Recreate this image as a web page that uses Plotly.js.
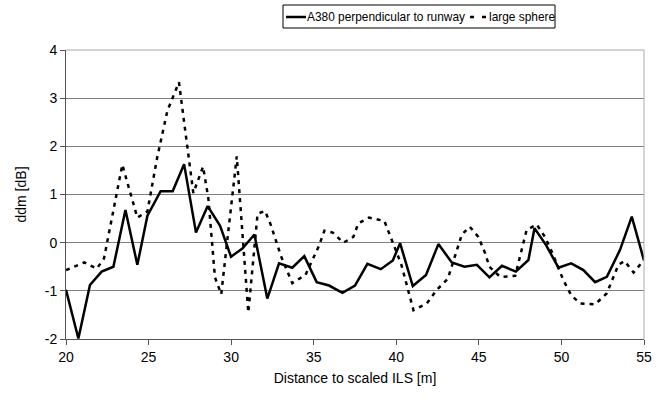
<!DOCTYPE html>
<html>
<head>
<meta charset="utf-8">
<script src="https://cdn.plot.ly/plotly-3.0.1.min.js"></script>
<style>html,body{margin:0;padding:0;background:#fff;}#chart{width:667px;height:401px;}</style>
</head>
<body>
<div id="chart"></div>
<script>
// Series 1: A380 perpendicular to runway
var xA380 = [20.0, 20.75, 21.45, 22.16, 22.87, 23.6, 24.32, 24.93, 25.73, 26.46, 27.15, 27.87, 28.58, 29.33, 29.99, 30.68, 31.41, 32.19, 32.9, 33.7, 34.43, 35.18, 35.93, 36.74, 37.5, 38.25, 39.06, 39.79, 40.23, 41.0, 41.8, 42.55, 43.36, 44.13, 44.88, 45.64, 46.4, 47.24, 48.0, 48.37, 49.07, 49.82, 50.59, 51.33, 52.04, 52.75, 53.55, 54.26, 55.0];
var yA380 = [-0.98, -1.99, -0.88, -0.60, -0.50, 0.68, -0.46, 0.56, 1.07, 1.07, 1.63, 0.21, 0.76, 0.35, -0.29, -0.12, 0.17, -1.16, -0.43, -0.52, -0.28, -0.82, -0.89, -1.04, -0.89, -0.44, -0.55, -0.37, -0.01, -0.90, -0.67, -0.03, -0.41, -0.50, -0.46, -0.72, -0.48, -0.60, -0.36, 0.30, -0.05, -0.52, -0.43, -0.57, -0.82, -0.71, -0.15, 0.54, -0.37];
// Series 2: large sphere
var xSphere = [20.0, 21.1, 21.86, 22.3, 23.41, 24.32, 24.93, 25.53, 26.14, 26.5, 26.84, 27.71, 28.3, 28.62, 29.02, 29.4, 30.34, 31.04, 31.6, 32.05, 32.4, 33.02, 33.7, 34.5, 35.3, 35.65, 36.15, 36.8, 37.4, 37.7, 38.35, 39.28, 39.62, 40.3, 41.04, 41.85, 42.45, 43.12, 43.97, 44.45, 44.97, 45.38, 45.64, 46.29, 47.2, 47.89, 48.5, 49.0, 49.42, 50.12, 50.59, 51.13, 52.04, 52.75, 53.45, 53.82, 54.37, 55.0];
var ySphere = [-0.57, -0.41, -0.54, -0.33, 1.62, 0.52, 0.65, 1.78, 2.74, 3.05, 3.33, 1.03, 1.58, 0.92, -0.72, -1.07, 1.79, -1.45, 0.6, 0.66, 0.37, -0.28, -0.84, -0.67, -0.08, 0.25, 0.21, 0.0, 0.12, 0.40, 0.52, 0.45, 0.16, -0.45, -1.40, -1.26, -0.98, -0.75, 0.17, 0.33, 0.12, -0.22, -0.5, -0.71, -0.69, 0.26, 0.38, 0.12, -0.19, -0.78, -1.09, -1.26, -1.28, -1.05, -0.46, -0.38, -0.62, -0.36];
var xTicks = [20, 25, 30, 35, 40, 45, 50, 55];
var yTicks = [-2, -1, 0, 1, 2, 3, 4];
var seriesNames = ['A380 perpendicular to runway', 'large sphere'];

var font = 'Liberation Sans, Arial, sans-serif';
var traces = [
  {x: xA380, y: yA380, name: seriesNames[0], type: 'scatter', mode: 'lines',
   line: {color: '#000000', width: 2.5}},
  {x: xSphere, y: ySphere, name: seriesNames[1], type: 'scatter', mode: 'lines',
   line: {color: '#000000', width: 2.5, dash: '4px,5px'}}
];

// Legend drawn in paper coordinates (plot area: x 66..644 px, y 50..339 px)
function px(x) { return (x - 66) / 578; }
function py(y) { return (339 - y) / 289; }
var legendShapes = [
  {type: 'rect', xref: 'paper', yref: 'paper', x0: px(283), x1: px(555), y0: py(28), y1: py(5),
   line: {color: '#000000', width: 1}, fillcolor: '#ffffff'},
  {type: 'line', xref: 'paper', yref: 'paper', x0: px(286), x1: px(306), y0: py(17), y1: py(17),
   line: {color: '#000000', width: 2.5}},
  {type: 'line', xref: 'paper', yref: 'paper', x0: px(470), x1: px(486), y0: py(17), y1: py(17),
   line: {color: '#000000', width: 2.5, dash: '4px,8px'}}
];
var legendTexts = [
  {text: seriesNames[0], xref: 'paper', yref: 'paper', x: px(305), y: py(17), xanchor: 'left', yanchor: 'middle',
   showarrow: false, font: {family: font, size: 11.9, color: '#000000'}},
  {text: seriesNames[1], xref: 'paper', yref: 'paper', x: px(487), y: py(17), xanchor: 'left', yanchor: 'middle',
   showarrow: false, font: {family: font, size: 11.9, color: '#000000'}}
];

var layout = {
  width: 667, height: 401,
  margin: {l: 66, r: 23, t: 50, b: 62, pad: 0},
  paper_bgcolor: '#ffffff', plot_bgcolor: '#ffffff',
  font: {family: font, size: 13, color: '#000000'},
  showlegend: false,
  xaxis: {
    range: [20, 55], tickvals: xTicks, ticktext: xTicks.map(String),
    showgrid: false, zeroline: false, showline: true, linecolor: '#555555', linewidth: 1,
    ticks: 'outside', ticklen: 5, tickcolor: '#555555', tickfont: {size: 14},
    title: {text: 'Distance to scaled ILS [m]', font: {size: 14}, standoff: 9}
  },
  yaxis: {
    range: [-2, 4], tickvals: yTicks, ticktext: yTicks.map(String),
    showgrid: true, gridcolor: '#808080', gridwidth: 1, zeroline: false,
    showline: true, linecolor: '#555555', linewidth: 1,
    ticks: 'outside', ticklen: 5, tickcolor: '#555555', tickfont: {size: 14},
    title: {text: 'ddm [dB]', font: {size: 14}, standoff: 14}
  },
  shapes: [
    {type: 'line', xref: 'paper', yref: 'paper', x0: 1, x1: 1, y0: 0, y1: 1,
     line: {color: '#aaaaaa', width: 1}},
    {type: 'line', xref: 'paper', yref: 'paper', x0: 0, x1: 1, y0: 1, y1: 1,
     line: {color: '#aaaaaa', width: 1}}
  ].concat(legendShapes),
  annotations: legendTexts
};
Plotly.newPlot('chart', traces, layout, {displayModeBar: false, staticPlot: true});
</script>
</body>
</html>
